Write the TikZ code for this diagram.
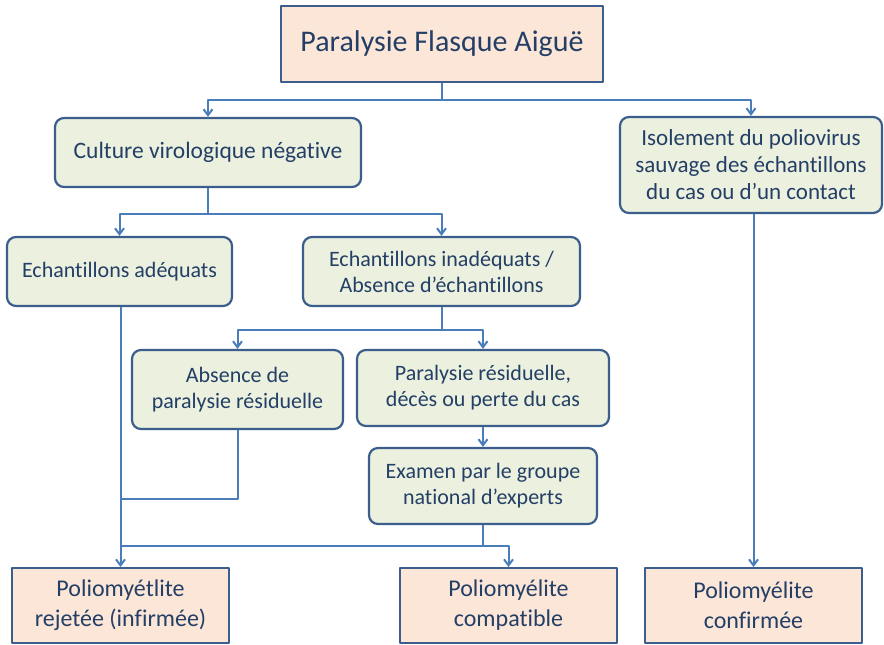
\documentclass[tikz,border=0pt]{standalone}
\usepackage{fontspec}
\setmainfont{Carlito}[Ligatures=NoCommon]
\usetikzlibrary{arrows.meta}
\definecolor{boxline}{HTML}{3B5E8C}
\definecolor{wireblue}{HTML}{4A7EBB}
\definecolor{txtblue}{HTML}{243F66}
\definecolor{peach}{HTML}{FCE6D8}
\definecolor{sage}{HTML}{EBF0DF}
\begin{document}
\begin{tikzpicture}[x=1pt, y=-1pt, line join=round, >={Straight Barb[length=6pt,width=9pt]},
	outcome/.style={draw=boxline, line width=2pt, fill=peach, text=txtblue, align=center, inner sep=0pt, minimum width=217pt, minimum height=75pt, font=\fontsize{24}{30}\selectfont},
	stepbox/.style={draw=boxline, line width=2.2pt, rounded corners=9pt, fill=sage, text=txtblue, align=center, inner sep=0pt, font=\fontsize{22}{26}\selectfont},
	wire/.style={draw=wireblue, line width=2pt}]
	\useasboundingbox (0,0) rectangle (884,645);
	%\fill[white] (0,0) rectangle (884,645);
	\node[outcome, minimum width=322pt, minimum height=76pt, font=\fontsize{30}{30}\selectfont] (pfa) at (442,44) {Paralysie Flasque Aiguë};
	\node[stepbox, minimum width=306pt, minimum height=69pt, font=\fontsize{23.5}{26}\selectfont] (culture) at (208,152.5) {Culture virologique négative};
	\node[stepbox, minimum width=262pt, minimum height=96pt, font=\fontsize{23}{27}\selectfont] (isol) at (751,165) {Isolement du poliovirus\\sauvage des échantillons\\du cas ou d’un contact};
	\node[stepbox, minimum width=225pt, minimum height=69pt] (adeq) at (119.5,271.5) {Echantillons adéquats};
	\node[stepbox, minimum width=277pt, minimum height=69pt] (inadeq) at (441.5,271.5) {Echantillons inadéquats /\\Absence d’échantillons};
	\node[stepbox, minimum width=211pt, minimum height=79pt] (absres) at (237.5,389.5) {Absence de\\paralysie résiduelle};
	\node[stepbox, minimum width=252pt, minimum height=76pt] (parres) at (483,388) {Paralysie résiduelle,\\décès ou perte du cas};
	\node[stepbox, minimum width=228pt, minimum height=76pt] (examen) at (483,486) {Examen par le groupe\\national d’experts};
	\node[outcome] (rejet) at (120.5,605.5) {Poliomyétlite\\rejetée (infirmée)};
	\node[outcome] (compat) at (508.5,605.5) {Poliomyélite\\compatible};
	\node[outcome] (confirm) at (753.5,605.5) {Poliomyélite\\confirmée};
	% connectors
	\draw[wire] (pfa.south) -- ++(0,17) coordinate (split1);
	\draw[wire,->] (split1) -| (culture.north);
	\draw[wire,->] (split1) -| (isol.north);
	\draw[wire] (culture.south) -- ++(0,26) coordinate (split2);
	\draw[wire,->] (split2) -| (adeq.north);
	\draw[wire,->] (split2) -| (inadeq.north);
	\draw[wire] (inadeq.south) -- ++(0,23) coordinate (split3);
	\draw[wire,->] (split3) -| (absres.north);
	\draw[wire,->] (split3) -| (parres.north);
	\draw[wire,->] (parres.south) -- (examen.north);
	\draw[wire,->] (rejet.north |- adeq.south) -- (rejet.north);
	\draw[wire] (absres.south) -- ++(0,69) coordinate (join1) -- (rejet.north |- join1);
	\draw[wire] (examen.south) -- ++(0,21) coordinate (join2) -- (rejet.north |- join2);
	\draw[wire,->] (join2) -| (compat.north);
	\draw[wire,->] (confirm.north |- isol.south) -- (confirm.north);
\end{tikzpicture}
\end{document}
